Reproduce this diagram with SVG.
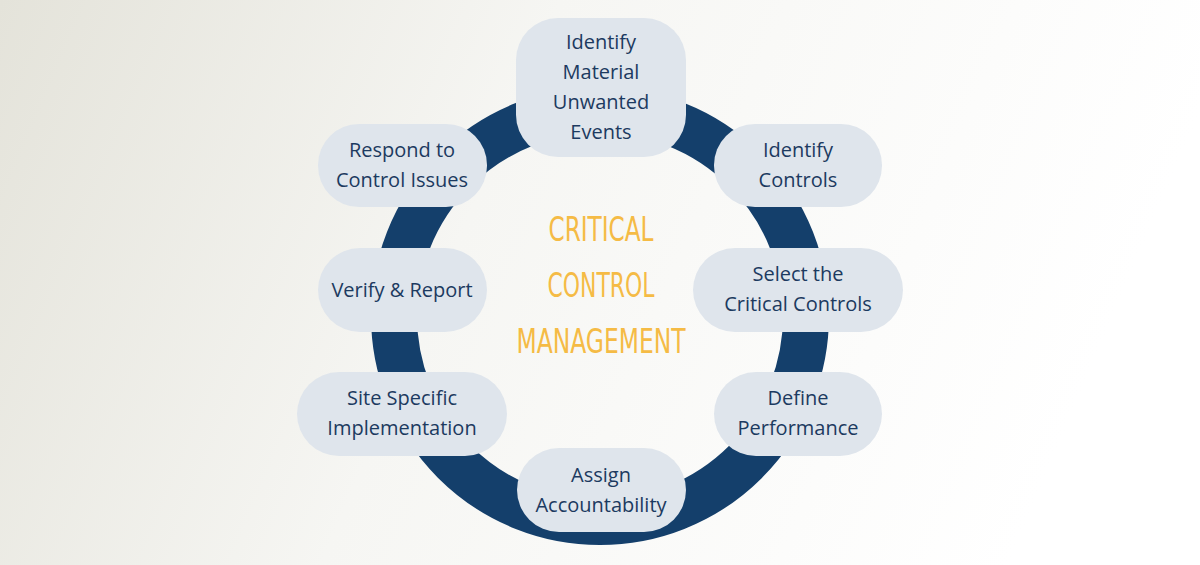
<svg xmlns="http://www.w3.org/2000/svg" width="1200" height="565" viewBox="0 0 1200 565">
<defs>
<linearGradient id="bg" x1="0" y1="0" x2="1" y2="0.2">
<stop offset="0" stop-color="#e4e3da"/><stop offset="0.45" stop-color="#f6f6f3"/><stop offset="1" stop-color="#ffffff"/>
</linearGradient>
<style>
.n rect{fill:#dfe5ec}
.n text{font-family:"Open Sans","Liberation Sans",sans-serif;font-size:20px;fill:#1c3a60;text-anchor:middle}
.c{font-family:"DejaVu Sans Condensed","Liberation Sans",sans-serif;font-size:34px;fill:#f5bb45;text-anchor:middle;font-stretch:condensed}
</style>
</defs>
<rect width="1200" height="565" fill="url(#bg)"/>
<g id="connectors"><circle cx="600" cy="316" r="206" fill="none" stroke="#143f6b" stroke-width="46"/></g>
<g id="title"><text class="c" x="601" y="241" textLength="105" lengthAdjust="spacingAndGlyphs">CRITICAL</text>
<text class="c" x="601" y="297" textLength="107" lengthAdjust="spacingAndGlyphs">CONTROL</text>
<text class="c" x="601" y="353" textLength="169" lengthAdjust="spacingAndGlyphs">MANAGEMENT</text></g>
<g id="n1" class="n"><rect x="516" y="18" width="170" height="139" rx="42"/><text x="601" y="49">Identify</text><text x="601" y="79">Material</text><text x="601" y="109">Unwanted</text><text x="601" y="139">Events</text></g>
<g id="n2" class="n"><rect x="714" y="124" width="168" height="83" rx="41"/><text x="798" y="157">Identify</text><text x="798" y="187">Controls</text></g>
<g id="n3" class="n"><rect x="693" y="248" width="210" height="84" rx="42"/><text x="798" y="281">Select the</text><text x="798" y="311">Critical Controls</text></g>
<g id="n4" class="n"><rect x="714" y="372" width="168" height="84" rx="42"/><text x="798" y="405">Define</text><text x="798" y="435">Performance</text></g>
<g id="n5" class="n"><rect x="517" y="448" width="169" height="84" rx="42"/><text x="601" y="482">Assign</text><text x="601" y="512">Accountability</text></g>
<g id="n6" class="n"><rect x="297" y="372" width="210" height="84" rx="42"/><text x="402" y="405">Site Specific</text><text x="402" y="435">Implementation</text></g>
<g id="n7" class="n"><rect x="318" y="248" width="169" height="84" rx="42"/><text x="402" y="297">Verify &amp; Report</text></g>
<g id="n8" class="n"><rect x="318" y="124" width="169" height="83" rx="41"/><text x="402" y="157">Respond to</text><text x="402" y="187">Control Issues</text></g>
</svg>
